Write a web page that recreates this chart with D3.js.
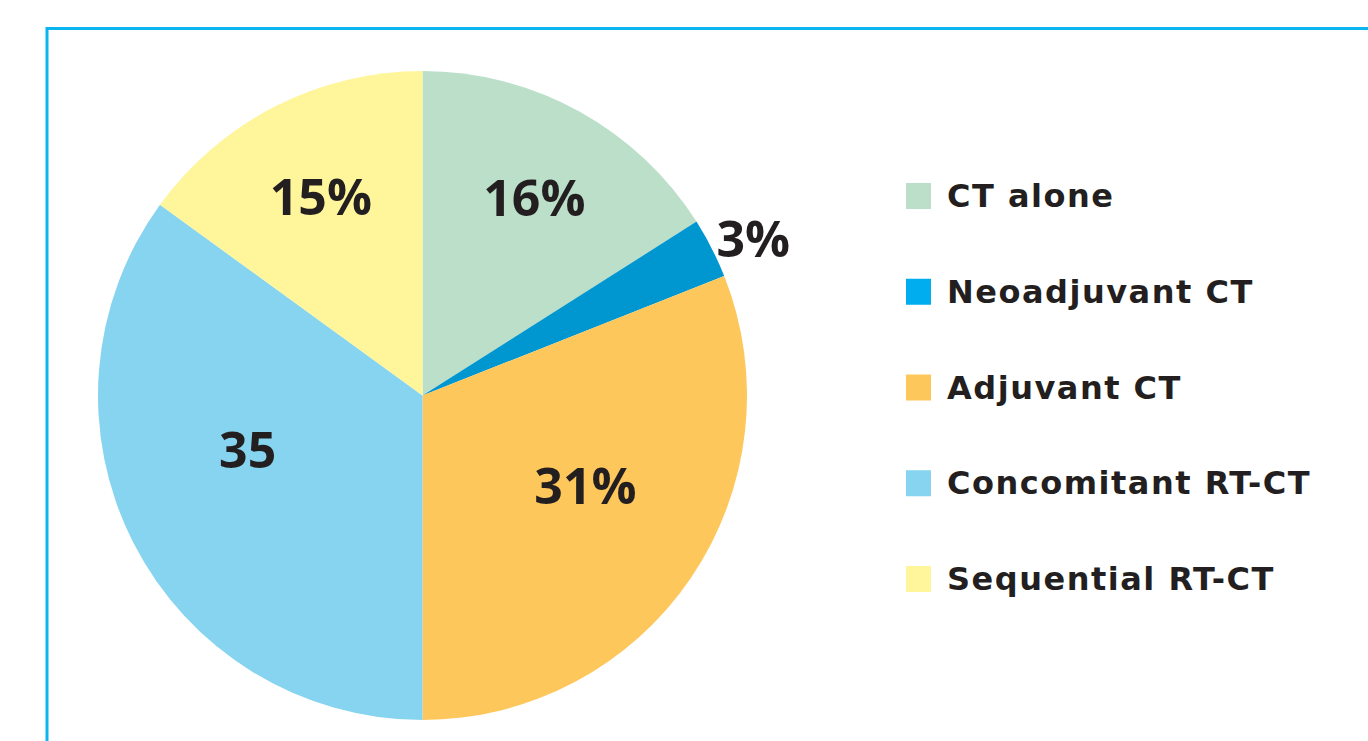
<!DOCTYPE html>
<html>
<head>
<meta charset="utf-8">
<script src="https://cdn.jsdelivr.net/npm/d3@7/dist/d3.min.js"></script>
<style>
  body { margin: 0; background: #fff; }
  svg { display: block; }
  text { fill: #231f20; }
  .lbl { font-family: "Open Sans", "Noto Sans", sans-serif; font-weight: 700; }
  .leg { font-family: "DejaVu Sans", sans-serif; font-weight: 700; letter-spacing: 1.5px; }
</style>
</head>
<body>
<div id="chart"></div>
<script>
// data
var categories = ["CT alone", "Neoadjuvant CT", "Adjuvant CT", "Concomitant RT-CT", "Sequential RT-CT"];
var values = [16, 3, 31, 35, 15];
var labels = ["16%", "3%", "31%", "35", "15%"];
var pieColors = ["#bbdfc8", "#0096cf", "#fdc75c", "#86d4ef", "#fff59b"];
var legendColors = ["#bbdfc8", "#00adee", "#fdc75c", "#86d4ef", "#fff59b"];

var width = 1368, height = 741;
var cx = 422.5, cy = 395.5, radius = 324.5;

var svg = d3.select('#chart')
  .append('svg')
  .attr('width', width)
  .attr('height', height);

// frame (runs off the right and bottom edges)
svg.append('rect')
  .attr('x', 47)
  .attr('y', 28.5)
  .attr('width', 1400)
  .attr('height', 800)
  .attr('fill', 'none')
  .attr('stroke', '#0bb5ef')
  .attr('stroke-width', 3);

var pie = d3.pie().sort(null).value(d => d);
var arcs = pie(values);

var arc = d3.arc().innerRadius(0).outerRadius(radius);

var g = svg.append('g')
  .attr('transform', 'translate(' + cx + ',' + cy + ')');

g.selectAll('path')
  .data(arcs)
  .enter()
  .append('path')
  .attr('d', arc)
  .attr('fill', (d, i) => pieColors[i]);

// label placement: radius factor + small nudges per slice
var labelR = [0.69, 1.12, 0.57, 0.57, 0.69];
var nudge = [[4, -2], [7, 7], [10, -14], [-10, -30], [0, 0]];

function labelPos(d, i) {
  var r = radius * labelR[i];
  var c = d3.arc().innerRadius(r).outerRadius(r).centroid(d);
  return [c[0] + nudge[i][0], c[1] + nudge[i][1]];
}

g.selectAll('text.lbl')
  .data(arcs)
  .enter()
  .append('text')
  .attr('class', 'lbl')
  .attr('x', (d, i) => labelPos(d, i)[0])
  .attr('y', (d, i) => labelPos(d, i)[1])
  .attr('text-anchor', 'middle')
  .attr('dominant-baseline', 'central')
  .style('font-size', '50px')
  .text((d, i) => labels[i]);

// legend
var legendY = d3.scalePoint()
  .domain(categories)
  .range([196, 579]);

var legend = svg.append('g');

var items = legend.selectAll('g')
  .data(categories)
  .enter()
  .append('g')
  .attr('transform', d => 'translate(906,' + legendY(d) + ')');

items.append('rect')
  .attr('x', 0)
  .attr('y', -13)
  .attr('width', 25)
  .attr('height', 26)
  .attr('fill', (d, i) => legendColors[i]);

items.append('text')
  .attr('class', 'leg')
  .attr('x', 41)
  .attr('y', 0)
  .attr('dominant-baseline', 'central')
  .style('font-size', '32px')
  .text(d => d);
</script>
</body>
</html>
